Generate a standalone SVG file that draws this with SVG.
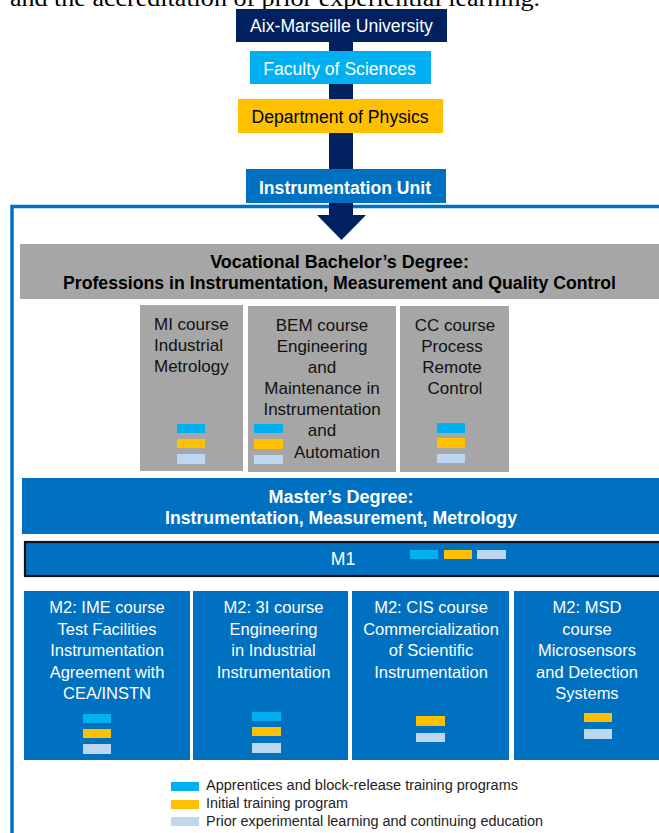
<svg xmlns="http://www.w3.org/2000/svg" width="659" height="833" viewBox="0 0 659 833">
  <style>
    text { font-family: "Liberation Sans", Arial, sans-serif; }
    .serif { font-family: "Liberation Serif", "Times New Roman", serif; font-size: 23px; fill: #000; }
    .hdr { font-size: 17.6px; text-anchor: middle; }
    .ttl { font-size: 18px; font-weight: bold; text-anchor: middle; }
    .bold { font-weight: bold; }
    .w { fill: #ffffff; }
    .k { fill: #000000; }
    .crs { font-size: 17px; fill: #111; }
    .m2 { font-size: 16.5px; fill: #ffffff; text-anchor: middle; }
    .mid { text-anchor: middle; }
    .leg { font-size: 14px; fill: #222; }
    .cy { fill: #00B0F0; }
    .ye { fill: #FFC000; }
    .lb { fill: #BDD7EE; }
  </style>

  <!-- trailing line of the preceding paragraph -->
  <text class="serif" x="10" y="5.5" textLength="530" lengthAdjust="spacingAndGlyphs">and the accreditation of prior experiential learning.</text>

  <!-- outer frame of the instrumentation unit -->
  <rect id="frame" x="12" y="206.5" width="700" height="700" fill="none" stroke="#0070C0" stroke-width="3.5"/>

  <!-- connectors: hierarchy stem and arrow -->
  <g id="connectors" fill="#002060">
    <rect x="329" y="40" width="24" height="176"/>
    <polygon points="317,215 366,215 341.5,240"/>
  </g>

  <g id="university">
    <rect x="236" y="9" width="211" height="33" fill="#002060"/>
    <text class="hdr w" x="341.5" y="31.5">Aix-Marseille University</text>
  </g>
  <g id="faculty">
    <rect x="250" y="51" width="181" height="33" fill="#00B0F0"/>
    <text class="hdr w" x="339.5" y="75">Faculty of Sciences</text>
  </g>
  <g id="department">
    <rect x="238" y="99" width="205" height="34" fill="#FFC000"/>
    <text class="hdr k" x="340" y="123">Department of Physics</text>
  </g>
  <g id="unit">
    <rect x="246" y="169" width="200" height="34" fill="#0070C0"/>
    <text class="hdr bold w" x="345" y="194">Instrumentation Unit</text>
  </g>

  <!-- bachelor level -->
  <g id="bachelor">
    <rect x="20" y="244" width="660" height="55" fill="#A6A6A6"/>
    <text class="ttl k" x="339.5" y="268">Vocational Bachelor’s Degree:</text>
    <text class="ttl k" x="339.5" y="289" textLength="553" lengthAdjust="spacingAndGlyphs">Professions in Instrumentation, Measurement and Quality Control</text>
  </g>

  <g id="course-mi">
    <rect x="140" y="305" width="103" height="166" fill="#A6A6A6"/>
    <text class="crs" x="154" y="330">MI course</text>
    <text class="crs" x="154" y="351">Industrial</text>
    <text class="crs" x="154" y="372">Metrology</text>
    <rect class="cy" x="177" y="424" width="28" height="9"/>
    <rect class="ye" x="177" y="439" width="28" height="9"/>
    <rect class="lb" x="177" y="454" width="28" height="10"/>
  </g>

  <g id="course-bem">
    <rect x="248" y="306" width="148" height="166" fill="#A6A6A6"/>
    <text class="crs mid" x="322" y="331">BEM course</text>
    <text class="crs mid" x="322" y="352">Engineering</text>
    <text class="crs mid" x="322" y="373">and</text>
    <text class="crs mid" x="322" y="394">Maintenance in</text>
    <text class="crs mid" x="322" y="415">Instrumentation</text>
    <text class="crs mid" x="322" y="436">and</text>
    <text class="crs mid" x="337" y="458">Automation</text>
    <rect class="cy" x="254" y="424" width="29" height="9"/>
    <rect class="ye" x="254" y="439" width="29" height="10"/>
    <rect class="lb" x="254" y="455" width="29" height="9"/>
  </g>

  <g id="course-cc">
    <rect x="400" y="306" width="109" height="166" fill="#A6A6A6"/>
    <text class="crs mid" x="455" y="331">CC course</text>
    <text class="crs mid" x="452" y="352">Process</text>
    <text class="crs mid" x="452" y="373">Remote</text>
    <text class="crs mid" x="455" y="394">Control</text>
    <rect class="cy" x="437" y="423" width="28" height="10"/>
    <rect class="ye" x="437" y="438" width="28" height="10"/>
    <rect class="lb" x="437" y="454" width="28" height="9"/>
  </g>

  <!-- master level -->
  <g id="master">
    <rect x="22" y="478" width="660" height="56" fill="#0070C0"/>
    <text class="ttl w" x="341" y="503">Master’s Degree:</text>
    <text class="ttl w" x="341" y="524" textLength="352" lengthAdjust="spacingAndGlyphs">Instrumentation, Measurement, Metrology</text>
  </g>

  <g id="m1">
    <rect x="25" y="542" width="660" height="34" fill="#0070C0" stroke="#111" stroke-width="2.2"/>
    <text class="hdr w" x="343" y="565">M1</text>
    <rect class="cy" x="410" y="550" width="28" height="9"/>
    <rect class="ye" x="444" y="550" width="28" height="9"/>
    <rect class="lb" x="477" y="550" width="29" height="9"/>
  </g>

  <g id="m2-ime">
    <rect x="24" y="591" width="166" height="169" fill="#0070C0"/>
    <text class="m2" x="107" y="613">M2: IME course</text>
    <text class="m2" x="107" y="635">Test Facilities</text>
    <text class="m2" x="107" y="656">Instrumentation</text>
    <text class="m2" x="107" y="678">Agreement with</text>
    <text class="m2" x="107" y="699">CEA/INSTN</text>
    <rect class="cy" x="83" y="714" width="28" height="9"/>
    <rect class="ye" x="83" y="729" width="28" height="9"/>
    <rect class="lb" x="83" y="744" width="28" height="10"/>
  </g>

  <g id="m2-3i">
    <rect x="193" y="591" width="155" height="169" fill="#0070C0"/>
    <text class="m2" x="273.5" y="613">M2: 3I course</text>
    <text class="m2" x="273.5" y="635">Engineering</text>
    <text class="m2" x="273.5" y="656">in Industrial</text>
    <text class="m2" x="273.5" y="678">Instrumentation</text>
    <rect class="cy" x="252" y="712" width="29" height="9"/>
    <rect class="ye" x="252" y="727" width="29" height="9"/>
    <rect class="lb" x="252" y="743" width="29" height="10"/>
  </g>

  <g id="m2-cis">
    <rect x="352" y="591" width="157" height="169" fill="#0070C0"/>
    <text class="m2" x="431" y="613">M2: CIS course</text>
    <text class="m2" x="431" y="635">Commercialization</text>
    <text class="m2" x="431" y="656">of Scientific</text>
    <text class="m2" x="431" y="678">Instrumentation</text>
    <rect class="ye" x="416" y="716" width="29" height="10"/>
    <rect class="lb" x="416" y="733" width="29" height="9"/>
  </g>

  <g id="m2-msd">
    <rect x="514" y="591" width="170" height="169" fill="#0070C0"/>
    <text class="m2" x="587" y="613">M2: MSD</text>
    <text class="m2" x="587" y="635">course</text>
    <text class="m2" x="587" y="656">Microsensors</text>
    <text class="m2" x="587" y="678">and Detection</text>
    <text class="m2" x="587" y="699">Systems</text>
    <rect class="ye" x="584" y="713" width="28" height="9"/>
    <rect class="lb" x="584" y="729" width="28" height="10"/>
  </g>

  <!-- legend -->
  <g id="legend">
    <rect class="cy" x="171" y="782" width="28" height="9"/>
    <text class="leg" x="206" y="790" textLength="312" lengthAdjust="spacingAndGlyphs">Apprentices and block-release training programs</text>
    <rect class="ye" x="171" y="800" width="28" height="9"/>
    <text class="leg" x="206" y="808" textLength="142" lengthAdjust="spacingAndGlyphs">Initial training program</text>
    <rect class="lb" x="171" y="817" width="28" height="9"/>
    <text class="leg" x="206" y="826" textLength="337" lengthAdjust="spacingAndGlyphs">Prior experimental learning and continuing education</text>
  </g>
</svg>
